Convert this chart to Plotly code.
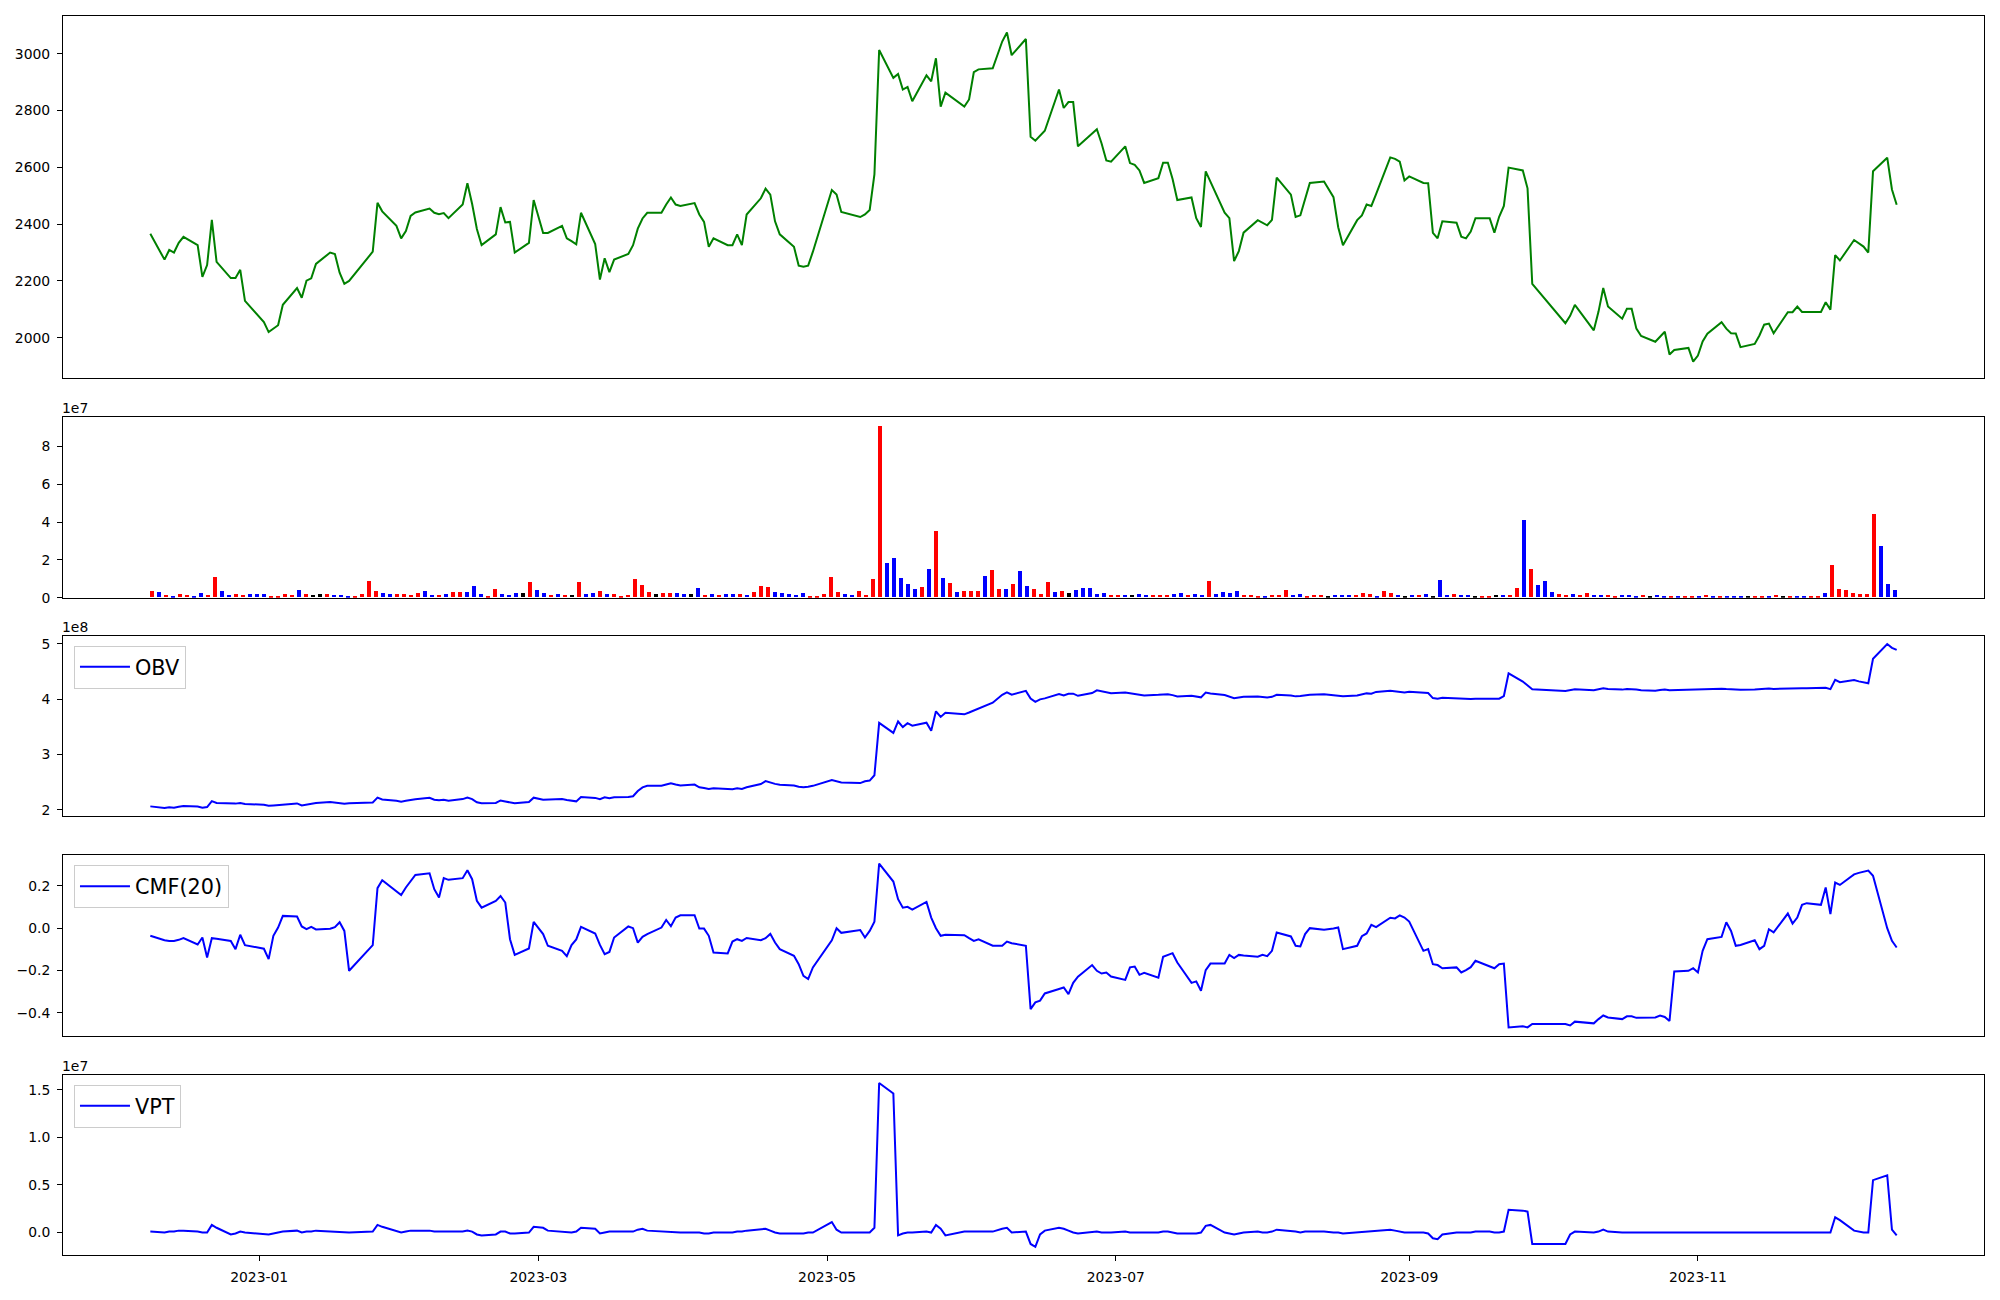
import pandas as pd
import plotly.graph_objects as go

# ---------------- data ----------------
START, END = "2022-12-09", "2023-12-13"
# Korea Exchange closing days inside the range
KRX_HOLIDAYS = ["2022-12-30", "2023-01-23", "2023-01-24", "2023-03-01", "2023-05-01",
                "2023-05-05", "2023-05-29", "2023-06-06", "2023-08-15", "2023-09-28",
                "2023-09-29", "2023-10-02", "2023-10-03", "2023-10-09"]
dates = [d for d in pd.bdate_range(START, END) if d.strftime("%Y-%m-%d") not in KRX_HOLIDAYS]

close = [
    2366, 2275, 2309, 2300, 2334, 2355, 2326, 2214, 2256, 2415, 2267, 2210, 2210, 2239, 2130,
    2055, 2020, 2033, 2044, 2116, 2175, 2141, 2201, 2209, 2260, 2300, 2295, 2229, 2190, 2200,
    2303, 2475, 2445, 2394, 2350,
    2376, 2429, 2441, 2455, 2440, 2435, 2439, 2421, 2469, 2544, 2471, 2383, 2326, 2364, 2460,
    2406, 2408, 2300, 2334, 2485,
    2369, 2369, 2394, 2350, 2340, 2329, 2440, 2330, 2205, 2280, 2231, 2275, 2295, 2326, 2384,
    2420, 2440, 2440, 2469, 2494, 2469, 2464,
    2474, 2434, 2408, 2320, 2350, 2326, 2326, 2364, 2326, 2434, 2491, 2525, 2504, 2410, 2364,
    2320, 2254, 2250, 2254, 2303,
    2520, 2504, 2443, 2425, 2434, 2450, 2575, 3013, 2915, 2929, 2874, 2883, 2833, 2924, 2903,
    2984, 2814, 2863, 2814, 2839,
    2935, 2945, 2949, 3043, 3075, 2995, 3052, 2708, 2694, 2712, 2729, 2874, 2809, 2830, 2830,
    2674, 2719, 2734, 2684, 2624, 2620,
    2674, 2615, 2609, 2589, 2545, 2562, 2616, 2616, 2559, 2485, 2494, 2421, 2390, 2586, 2550,
    2440, 2421, 2270, 2305, 2370, 2414,
    2405, 2396, 2415, 2564, 2504, 2425, 2431, 2491, 2545, 2550, 2495, 2389, 2326, 2414, 2431,
    2469, 2464, 2506, 2635, 2630, 2620, 2554,
    2568, 2545, 2544, 2369, 2350, 2410, 2405, 2356, 2350, 2374, 2421, 2421, 2370, 2426, 2464,
    2599, 2589, 2526, 2190,
    2051, 2077, 2116, 2026, 2092, 2175, 2110, 2067, 2102, 2102, 2032, 2006, 1986, 2004, 2021,
    1941, 1957, 1964, 1916,
    1937, 1987, 2014, 2055, 2032, 2016, 2015, 1967, 1978, 2008, 2046, 2050, 2016, 2090, 2090,
    2110, 2091, 2091, 2091, 2125, 2099, 2291,
    2272, 2344, 2333, 2321, 2300, 2586, 2634, 2522, 2468,
]

# traded volume, in units of 1e7
volume_1e7 = [
    0.33, 0.28, 0.12, 0.07, 0.17, 0.12, 0.07, 0.23, 0.12, 1.07,
    0.33, 0.12, 0.17, 0.12, 0.17, 0.17, 0.17, 0.07, 0.07, 0.17,
    0.12, 0.38, 0.17, 0.12, 0.17, 0.17, 0.12, 0.12, 0.07, 0.07,
    0.17, 0.86, 0.33, 0.23, 0.17, 0.17, 0.17, 0.12, 0.23, 0.33,
    0.12, 0.12, 0.17, 0.28, 0.28, 0.28, 0.59, 0.17, 0.07, 0.44,
    0.17, 0.12, 0.23, 0.23, 0.80, 0.38, 0.23, 0.12, 0.17, 0.12,
    0.12, 0.80, 0.17, 0.23, 0.33, 0.17, 0.17, 0.07, 0.12, 0.96,
    0.65, 0.28, 0.17, 0.23, 0.23, 0.23, 0.17, 0.17, 0.49, 0.12,
    0.17, 0.12, 0.17, 0.17, 0.17, 0.12, 0.28, 0.59, 0.54, 0.28,
    0.23, 0.17, 0.12, 0.23, 0.07, 0.07, 0.17, 1.07, 0.28, 0.17,
    0.12, 0.33, 0.12, 0.96, 9.08, 1.80, 2.06, 1.01, 0.70, 0.44,
    0.54, 1.48, 3.53, 1.01, 0.75, 0.28, 0.33, 0.33, 0.33, 1.12,
    1.43, 0.44, 0.44, 0.70, 1.38, 0.59,
    0.44, 0.17, 0.80, 0.28, 0.33, 0.23, 0.38, 0.49, 0.49, 0.17,
    0.23, 0.12, 0.12, 0.12, 0.12, 0.17, 0.12, 0.12, 0.12, 0.12,
    0.17, 0.23, 0.12, 0.17, 0.12, 0.86, 0.17, 0.28, 0.23, 0.33,
    0.12, 0.12, 0.07, 0.07, 0.12, 0.12, 0.38, 0.12, 0.17, 0.07,
    0.12, 0.12, 0.07, 0.12, 0.12, 0.12, 0.12, 0.23, 0.17, 0.07,
    0.33, 0.23, 0.12, 0.07, 0.12, 0.12, 0.17, 0.07, 0.91, 0.12,
    0.17, 0.12, 0.12, 0.07, 0.07, 0.07, 0.12, 0.12, 0.12, 0.49,
    4.10, 1.48, 0.65, 0.86, 0.28, 0.17, 0.12, 0.17, 0.12, 0.23,
    0.12, 0.12, 0.12, 0.07, 0.12, 0.12, 0.07, 0.12, 0.07, 0.12,
    0.03, 0.07, 0.07, 0.03, 0.07, 0.03, 0.12, 0.07, 0.03, 0.03,
    0.07, 0.07, 0.07, 0.07, 0.03, 0.07, 0.12, 0.07, 0.07, 0.07,
    0.03, 0.03, 0.07, 0.23, 1.69, 0.44, 0.38, 0.23, 0.17, 0.17,
    4.42, 2.69, 0.70, 0.38,
]

# candle direction of each day: 1 = close above open, -1 = below, 0 = unchanged
candle_dir = [
    1, -1, 1, -1, 1, 1, -1, -1, 1, 1,
    -1, -1, 1, 1, -1, -1, -1, 1, 1, 1,
    1, -1, 1, 0, 0, 1, -1, -1, -1, 1,
    1, 1, 1, -1, -1, 1, 1, 1, 1, -1,
    -1, 1, -1, 1, 1, -1, -1, -1, 1, 1,
    -1, -1, -1, 0, 1, -1, -1, 1, -1, 1,
    0, 1, -1, -1, 1, -1, 1, 1, 1, 1,
    1, 1, 0, 1, 1, -1, -1, 0, -1, 1,
    -1, 1, -1, -1, 1, -1, 1, 1, 1, -1,
    -1, -1, -1, -1, 1, 1, 1, 1, 1, -1,
    -1, 1, 1, 1, 1, -1, -1, -1, -1, -1,
    1, -1, 1, -1, 1, -1, 1, 1, 1, -1,
    1, 1, -1, 1, -1, -1,
    1, 1, 1, -1, 1, 0, -1, -1, -1, -1,
    -1, 1, 1, -1, 0, -1, -1, 1, 1, 1,
    -1, -1, 1, -1, -1, 1, -1, -1, -1, -1,
    1, 1, 1, -1, 1, 1, 1, -1, -1, 1,
    1, 1, 0, -1, -1, -1, 1, 1, 1, -1,
    1, 1, -1, 0, -1, 1, -1, 0, -1, -1,
    1, -1, -1, 0, 1, 1, 0, -1, 1, 1,
    -1, 1, -1, -1, -1, 1, 1, -1, 1, 1,
    -1, -1, 1, 1, -1, -1, -1, 1, 0, -1,
    -1, 1, -1, 1, 1, -1, 1, -1, 1, -1,
    -1, -1, 0, 1, 1, -1, 1, 0, 1, -1,
    -1, 1, 1, -1, 1, 1, 1, 1, 1, 1,
    1, -1, -1, -1,
]

# On-Balance Volume, in units of 1e7
obv_1e7 = [
    20.60, 20.32, 20.44, 20.37, 20.54, 20.66, 20.59, 20.36, 20.48, 21.55,
    21.22, 21.10, 21.10, 21.22, 21.05, 20.88, 20.71, 20.78, 20.85, 21.02,
    21.14, 20.76, 20.93, 21.05, 21.22, 21.39, 21.27, 21.15, 21.08, 21.15,
    21.32, 22.18, 21.85, 21.62, 21.45, 21.62, 21.79, 21.91, 22.14, 21.81,
    21.69, 21.81, 21.64, 21.92, 22.20, 21.92, 21.33, 21.16, 21.23, 21.67,
    21.50, 21.38, 21.15, 21.38, 22.18, 21.80, 21.80, 21.92, 21.75, 21.63,
    21.51, 22.31, 22.14, 21.91, 22.24, 22.07, 22.24, 22.31, 22.43, 23.39,
    24.04, 24.32, 24.32, 24.55, 24.78, 24.55, 24.38, 24.55, 24.06, 23.94,
    23.77, 23.89, 23.72, 23.72, 23.89, 23.77, 24.05, 24.64, 25.18, 24.90,
    24.67, 24.50, 24.38, 24.15, 24.08, 24.15, 24.32, 25.39, 25.11, 24.94,
    24.82, 25.15, 25.27, 26.23, 35.71, 33.91, 35.97, 34.96, 35.66, 35.22,
    35.76, 34.28, 37.81, 36.80, 37.55, 37.27, 37.60, 37.93, 38.26, 39.38,
    40.81, 41.25, 40.81, 41.51, 40.13, 39.54, 39.98, 40.15, 40.95, 40.67,
    41.00, 41.00, 40.62, 41.11, 41.60, 41.43, 41.20, 41.08, 41.20, 41.08,
    40.96, 40.79, 40.67, 40.79, 40.91, 40.91, 40.74, 40.51, 40.63, 40.46,
    40.34, 41.20, 41.03, 40.75, 40.52, 40.19, 40.31, 40.43, 40.50, 40.43,
    40.31, 40.43, 40.81, 40.69, 40.52, 40.59, 40.71, 40.83, 40.90, 40.78,
    40.66, 40.54, 40.66, 40.89, 41.06, 40.99, 41.32, 41.55, 41.43, 41.36,
    41.24, 41.36, 41.19, 41.12, 40.21, 40.09, 40.26, 40.14, 40.02, 39.95,
    40.02, 40.09, 40.09, 39.97, 40.09, 40.58, 44.68, 43.20, 42.55, 41.79,
    41.51, 41.68, 41.80, 41.63, 41.75, 41.98, 41.86, 41.74, 41.86, 41.86,
    41.74, 41.62, 41.55, 41.67, 41.74, 41.62, 41.65, 41.72, 41.65, 41.68,
    41.75, 41.78, 41.90, 41.83, 41.80, 41.77, 41.70, 41.77, 41.84, 41.91,
    41.94, 41.87, 41.99, 41.99, 42.06, 41.99, 41.99, 41.99, 42.06, 41.83,
    43.52, 43.08, 43.46, 43.23, 43.06, 42.89, 47.31, 50.00, 49.30, 48.92,
]

# Chaikin Money Flow, 20 periods
cmf20 = [
    -0.036, -0.057, -0.060, -0.060, -0.055, -0.047, -0.077, -0.044, -0.138, -0.047,
    -0.050, -0.060, -0.099, -0.031, -0.080, -0.097, -0.146, -0.036, 0.003, 0.058,
    0.055, 0.008, -0.005, 0.006, -0.006, -0.003, 0.005, 0.028, -0.013, -0.201,
    -0.080, 0.189, 0.226, 0.173, 0.156, 0.192, 0.223, 0.251, 0.259, 0.184,
    0.145, 0.236, 0.228, 0.236, 0.273, 0.231, 0.129, 0.097, 0.129, 0.152,
    0.121, -0.052, -0.126, -0.096, 0.030, -0.028, -0.083, -0.107, -0.132, -0.080,
    -0.053, 0.006, -0.025, -0.079, -0.123, -0.112, -0.044, 0.008, 0.000, -0.068,
    -0.041, -0.028, 0.003, 0.039, 0.009, 0.050, 0.061, 0.061, -0.002, -0.002,
    -0.036, -0.115, -0.119, -0.063, -0.052, -0.060, -0.046, -0.057, -0.047, -0.027,
    -0.068, -0.099, -0.130, -0.170, -0.225, -0.240, -0.185, -0.057, 0.000, -0.022,
    -0.009, -0.044, -0.013, 0.031, 0.305, 0.220, 0.137, 0.097, 0.101, 0.088,
    0.124, 0.050, 0.000, -0.036, -0.031, -0.033, -0.047, -0.060, -0.053, -0.083,
    -0.083, -0.063, -0.071, -0.083, -0.382, -0.350, -0.342, -0.308, -0.287, -0.280,
    -0.311, -0.258, -0.229, -0.174, -0.201, -0.214, -0.209, -0.228, -0.244, -0.185,
    -0.181, -0.220, -0.211, -0.234, -0.135, -0.127, -0.118, -0.162, -0.258, -0.251,
    -0.295, -0.198, -0.167, -0.167, -0.126, -0.141, -0.126, -0.129, -0.135, -0.126,
    -0.132, -0.107, -0.020, -0.039, -0.083, -0.086, -0.028, 0.000, -0.008, -0.002,
    0.003, -0.099, -0.083, -0.038, -0.025, 0.016, 0.005, 0.049, 0.046, 0.060,
    0.050, 0.031, -0.107, -0.099, -0.170, -0.174, -0.189, -0.185, -0.209, -0.198,
    -0.184, -0.154, -0.179, -0.189, -0.170, -0.167, -0.468, -0.463, -0.468, -0.452,
    -0.452, -0.459, -0.441, -0.449, -0.429, -0.412, -0.421, -0.429, -0.416, -0.416,
    -0.423, -0.423, -0.421, -0.412, -0.419, -0.438, -0.204, -0.201, -0.189, -0.209,
    -0.107, -0.052, -0.041, 0.028, -0.013, -0.083, -0.079, -0.057, -0.099, -0.083,
    -0.005, -0.020, 0.069, 0.022, 0.050, 0.110, 0.118, 0.110, 0.192, 0.066,
    0.215, 0.204, 0.254, 0.261, 0.266, 0.272, 0.247, 0.000, -0.060, -0.091,
]

# Volume Price Trend, in units of 1e7
vpt_1e7 = [
    0.01, 0.00, 0.01, 0.01, 0.02, 0.02, 0.01, 0.00, 0.00, 0.08,
    0.05, -0.02, -0.01, 0.01, 0.00, -0.01, -0.02, -0.01, 0.00, 0.01,
    0.02, 0.00, 0.01, 0.01, 0.02, 0.01, 0.01, 0.00, 0.00, 0.00,
    0.01, 0.08, 0.06, 0.01, 0.00, 0.01, 0.02, 0.02, 0.02, 0.01,
    0.01, 0.01, 0.01, 0.01, 0.02, 0.01, -0.02, -0.03, -0.02, 0.01,
    0.01, -0.01, -0.01, 0.00, 0.06, 0.05, 0.02, 0.01, 0.00, 0.00,
    0.01, 0.05, 0.04, -0.01, 0.00, 0.01, 0.01, 0.01, 0.01, 0.03,
    0.04, 0.02, 0.01, 0.01, 0.01, 0.00, 0.00, 0.00, 0.00, -0.01,
    -0.01, 0.00, 0.00, 0.00, 0.01, 0.01, 0.02, 0.04, 0.04, 0.02,
    0.00, -0.01, -0.01, -0.01, -0.01, 0.00, 0.00, 0.11, 0.03, 0.00,
    0.00, 0.00, 0.00, 0.05, 1.57, 1.46, -0.03, -0.01, 0.00, 0.00,
    0.01, 0.00, 0.08, 0.04, -0.03, 0.01, 0.01, 0.01, 0.01, 0.01,
    0.04, 0.05, 0.00, 0.01, -0.12, -0.15, -0.02, 0.02, 0.05, 0.04,
    0.02, 0.00, -0.01, 0.00, 0.01, 0.00, 0.00, 0.00, 0.01, 0.00,
    0.00, 0.00, 0.00, 0.00, 0.01, 0.01, 0.00, -0.01, -0.01, -0.01,
    0.00, 0.07, 0.08, 0.00, -0.01, -0.02, -0.01, 0.00, 0.01, 0.00,
    0.00, 0.01, 0.03, 0.02, 0.01, 0.00, 0.01, 0.01, 0.01, 0.00,
    0.00, -0.01, 0.00, 0.01, 0.01, 0.01, 0.02, 0.03, 0.02, 0.01,
    0.00, 0.00, 0.00, -0.01, -0.06, -0.07, -0.02, 0.00, 0.00, 0.00,
    0.00, 0.01, 0.01, 0.00, 0.00, 0.01, 0.24, 0.23, 0.22, -0.12,
    -0.12, -0.02, 0.01, 0.00, 0.01, 0.03, 0.01, 0.00, 0.00, 0.00,
    0.00, 0.00, 0.00, 0.00, 0.00, 0.00, 0.00, 0.00, 0.00, 0.00,
    0.00, 0.00, 0.00, 0.00, 0.00, 0.00, 0.00, 0.00, 0.00, 0.00,
    0.00, 0.00, 0.00, 0.00, 0.00, 0.00, 0.00, 0.00, 0.00, 0.00,
    0.16, 0.13, 0.02, 0.01, 0.00, 0.00, 0.55, 0.60, 0.03, -0.03,
]

N = len(dates)
for arr in (close, volume_1e7, candle_dir, obv_1e7, cmf20, vpt_1e7):
    assert len(arr) == N, (len(arr), N)

volume = [v * 1e7 for v in volume_1e7]
obv = [v * 1e7 for v in obv_1e7]
vpt = [v * 1e7 for v in vpt_1e7]

# ---------------- styling ----------------
FONT = "DejaVu Sans"
TICK_FONT = dict(family=FONT, size=13.9, color="black")
DIR_COLOR = {1: "#ff0000", -1: "#0000ff", 0: "#000000"}
bar_colors = [DIR_COLOR[d] for d in candle_dir]


def padded(vals, frac=0.05, floor=None):
    lo, hi = min(vals), max(vals)
    p = (hi - lo) * frac
    return [floor if floor is not None else lo - p, hi + p]


# date range with matplotlib-like 5% margins
t0, t1 = pd.Timestamp(dates[0]), pd.Timestamp(dates[-1])
dpad = (t1 - t0) * 0.05
xrange_dates = [t0 - dpad, t1 + dpad]

BAR_W = 0.5
blo, bhi = -BAR_W / 2, N - 1 + BAR_W / 2
bpad = (bhi - blo) * 0.05
xrange_bars = [blo - bpad, bhi + bpad]

vol_range = [0, max(volume) * 1.05]

fig = go.Figure()
fig.add_trace(go.Scatter(x=dates, y=close, mode="lines", line=dict(color="#008000", width=2),
                         xaxis="x", yaxis="y", showlegend=False))
fig.add_trace(go.Bar(x=list(range(N)), y=volume, width=BAR_W,
                     marker=dict(color=bar_colors, line=dict(width=0)),
                     xaxis="x2", yaxis="y2", showlegend=False))
fig.add_trace(go.Scatter(x=dates, y=obv, mode="lines", name="OBV",
                         line=dict(color="#0000ff", width=2), xaxis="x3", yaxis="y3",
                         legend="legend"))
fig.add_trace(go.Scatter(x=dates, y=cmf20, mode="lines", name="CMF(20)",
                         line=dict(color="#0000ff", width=2), xaxis="x4", yaxis="y4",
                         legend="legend2"))
fig.add_trace(go.Scatter(x=dates, y=vpt, mode="lines", name="VPT",
                         line=dict(color="#0000ff", width=2), xaxis="x5", yaxis="y5",
                         legend="legend3"))

# page geometry (body of the html page keeps an 8 px margin)
PAGE = 8
W, H = 2000 - 2 * PAGE, 1300 - 2 * PAGE
ML, MR, MT, MB = 60 - PAGE, 2000 - 1985 - PAGE, 15 - PAGE, (1300 - PAGE) - 1260
PH = 1260 - 15


def dom(top_px, bot_px):
    return [(1260 - bot_px) / PH, (1260 - top_px) / PH]


D1 = dom(15, 378.8)
D2 = dom(418.4, 599.5)
D3 = dom(637.8, 819)
D4 = dom(858.4, 1039.5)
D5 = dom(1079, 1260)

frame = dict(showline=True, mirror=True, linecolor="black", linewidth=1,
             showgrid=False, zeroline=False)
yax = dict(frame, ticks="outside", ticklen=5, tickwidth=1, tickcolor="black",
           tickfont=TICK_FONT, ticklabelstandoff=4)
xhidden = dict(frame, showticklabels=False, ticks="")

tick_dates = ["2023-01-01", "2023-03-01", "2023-05-01", "2023-07-01", "2023-09-01", "2023-11-01"]

legend_style = dict(xanchor="left", yanchor="top", bgcolor="rgba(255,255,255,0.8)",
                    bordercolor="#cccccc", borderwidth=1, itemwidth=50,
                    font=dict(family=FONT, size=20.8, color="black"))

fig.update_layout(
    width=W, height=H,
    margin=dict(l=ML, r=MR, t=MT, b=MB),
    paper_bgcolor="white", plot_bgcolor="white",
    font=dict(family=FONT, color="black"),
    bargap=0,
    xaxis=dict(xhidden, domain=[0, 1], anchor="y", type="date", range=xrange_dates),
    yaxis=dict(yax, domain=D1, anchor="x", range=padded(close), dtick=200, tick0=0),
    xaxis2=dict(xhidden, domain=[0, 1], anchor="y2", range=xrange_bars),
    yaxis2=dict(yax, domain=D2, anchor="x2", range=vol_range,
                tickvals=[0, 2e7, 4e7, 6e7, 8e7], ticktext=["0", "2", "4", "6", "8"]),
    xaxis3=dict(xhidden, domain=[0, 1], anchor="y3", matches="x", type="date"),
    yaxis3=dict(yax, domain=D3, anchor="x3", range=padded(obv),
                tickvals=[2e8, 3e8, 4e8, 5e8], ticktext=["2", "3", "4", "5"]),
    xaxis4=dict(xhidden, domain=[0, 1], anchor="y4", matches="x", type="date"),
    yaxis4=dict(yax, domain=D4, anchor="x4", range=padded(cmf20),
                tickvals=[-0.4, -0.2, 0.0, 0.2], ticktext=["\u22120.4", "\u22120.2", "0.0", "0.2"]),
    xaxis5=dict(frame, domain=[0, 1], anchor="y5", matches="x", type="date",
                ticks="outside", ticklen=5, tickwidth=1, tickcolor="black",
                tickvals=tick_dates, tickformat="%Y-%m", tickfont=TICK_FONT,
                ticklabelstandoff=4),
    yaxis5=dict(yax, domain=D5, anchor="x5", range=padded(vpt),
                tickvals=[0, 0.5e7, 1.0e7, 1.5e7], ticktext=["0.0", "0.5", "1.0", "1.5"]),
    legend=dict(legend_style, x=11 / 1925, y=D3[1] - 10 / PH),
    legend2=dict(legend_style, x=11 / 1925, y=D4[1] - 10 / PH),
    legend3=dict(legend_style, x=11 / 1925, y=D5[1] - 10 / PH),
)

# scale factors shown above the axes, as matplotlib does
for dmn, txt in ((D2, "1e7"), (D3, "1e8"), (D5, "1e7")):
    fig.add_annotation(text=txt, xref="paper", yref="paper", x=0, y=dmn[1],
                       xanchor="left", yanchor="bottom", xshift=-3, yshift=-1,
                       showarrow=False, font=TICK_FONT)

fig.write_html("out.html")
